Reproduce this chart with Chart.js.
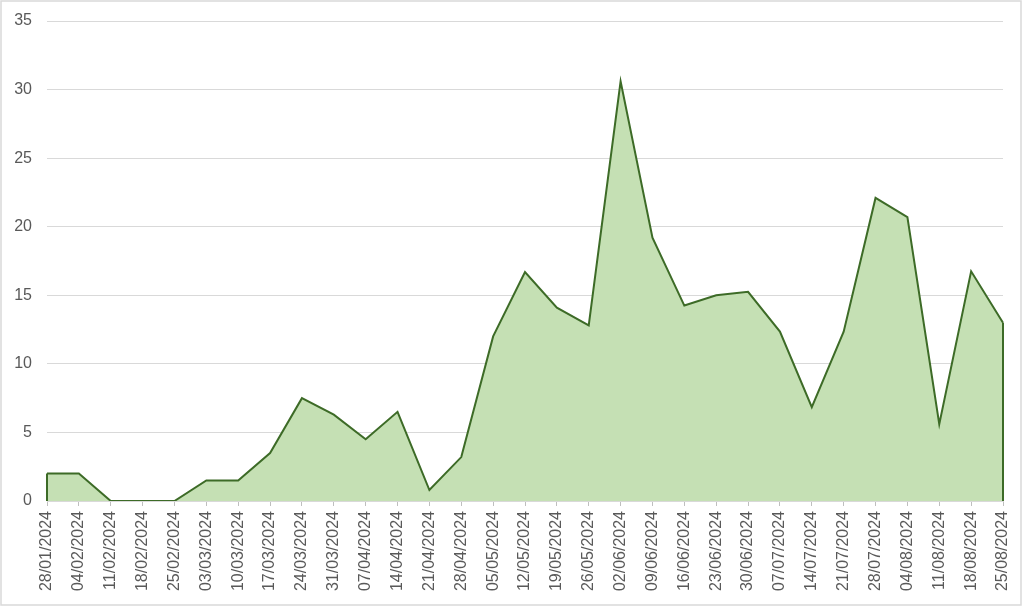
<!DOCTYPE html>
<html>
<head>
<meta charset="utf-8">
<script src="https://cdn.jsdelivr.net/npm/chart.js@4/dist/chart.umd.min.js"></script>
<style>
html,body{margin:0;padding:0;background:#fff;}
#wrap{width:1024px;height:608px;position:relative;}
</style>
</head>
<body>
<div id="wrap"><canvas id="c" width="1024" height="608"></canvas></div>
<script>
const categories = ["28/01/2024","04/02/2024","11/02/2024","18/02/2024","25/02/2024","03/03/2024","10/03/2024","17/03/2024","24/03/2024","31/03/2024","07/04/2024","14/04/2024","21/04/2024","28/04/2024","05/05/2024","12/05/2024","19/05/2024","26/05/2024","02/06/2024","09/06/2024","16/06/2024","23/06/2024","30/06/2024","07/07/2024","14/07/2024","21/07/2024","28/07/2024","04/08/2024","11/08/2024","18/08/2024","25/08/2024"];
const values = [2, 2, 0, 0, 0, 1.5, 1.5, 3.5, 7.5, 6.3, 4.5, 6.5, 0.8, 3.2, 12, 16.7, 14.1, 12.8, 30.6, 19.2, 14.25, 15.0, 15.25, 12.35, 6.85, 12.35, 22.1, 20.7, 5.6, 16.75, 13.0];
const yTicks = [0, 5, 10, 15, 20, 25, 30, 35];

const edgePlugin = {
  id: 'edges',
  afterDatasetsDraw(chart) {
    const meta = chart.getDatasetMeta(0);
    const y0 = chart.scales.y.getPixelForValue(0);
    const ctx = chart.ctx;
    const pts = [meta.data[0], meta.data[meta.data.length - 1]];
    ctx.save();
    ctx.strokeStyle = '#3d6b27';
    ctx.lineWidth = 2;
    pts.forEach(p => {
      ctx.beginPath();
      ctx.moveTo(p.x, p.y);
      ctx.lineTo(p.x, y0);
      ctx.stroke();
    });
    ctx.restore();
  }
};
const borderPlugin = {
  id: 'frame',
  afterDraw(chart) {
    const ctx = chart.ctx;
    ctx.save();
    ctx.strokeStyle = '#d9d9d9';
    ctx.lineWidth = 1.5;
    ctx.strokeRect(1, 1, 1020, 604);
    ctx.restore();
  }
};

new Chart(document.getElementById('c'), {
  type: 'line',
  data: {
    labels: categories,
    datasets: [{
      data: values,
      fill: 'origin',
      backgroundColor: '#c5e0b4',
      borderColor: '#3d6b27',
      borderWidth: 2,
      pointRadius: 0,
      tension: 0
    }]
  },
  options: {
    responsive: false,
    animation: false,
    devicePixelRatio: 1,
    layout: { padding: { left: 0, right: 21, top: 21, bottom: 0 } },
    plugins: { legend: { display: false }, tooltip: { enabled: false } },
    scales: {
      x: {
        offset: false,
        grid: { drawOnChartArea: false, drawTicks: true, tickLength: 5, color: '#bfbfbf' },
        border: { color: '#d9d9d9', width: 1 },
        ticks: {
          minRotation: 90, maxRotation: 90, autoSkip: false, padding: 5,
          color: '#595959', font: { family: 'Liberation Sans', size: 16 }
        },
        afterFit(s) { s.height = 107; s.paddingLeft = 0; s.paddingRight = 0; }
      },
      y: {
        min: 0, max: 35,
        afterBuildTicks(s) { s.ticks = yTicks.map(v => ({ value: v })); },
        grid: { color: '#d9d9d9', lineWidth: 1, drawTicks: false },
        border: { display: false },
        ticks: {
          padding: 15,
          color: '#595959', font: { family: 'Liberation Sans', size: 16 }
        },
        afterFit(s) { s.width = 47; s.paddingTop = 0; s.paddingBottom = 0; }
      }
    }
  },
  plugins: [edgePlugin, borderPlugin]
});
</script>
</body>
</html>
